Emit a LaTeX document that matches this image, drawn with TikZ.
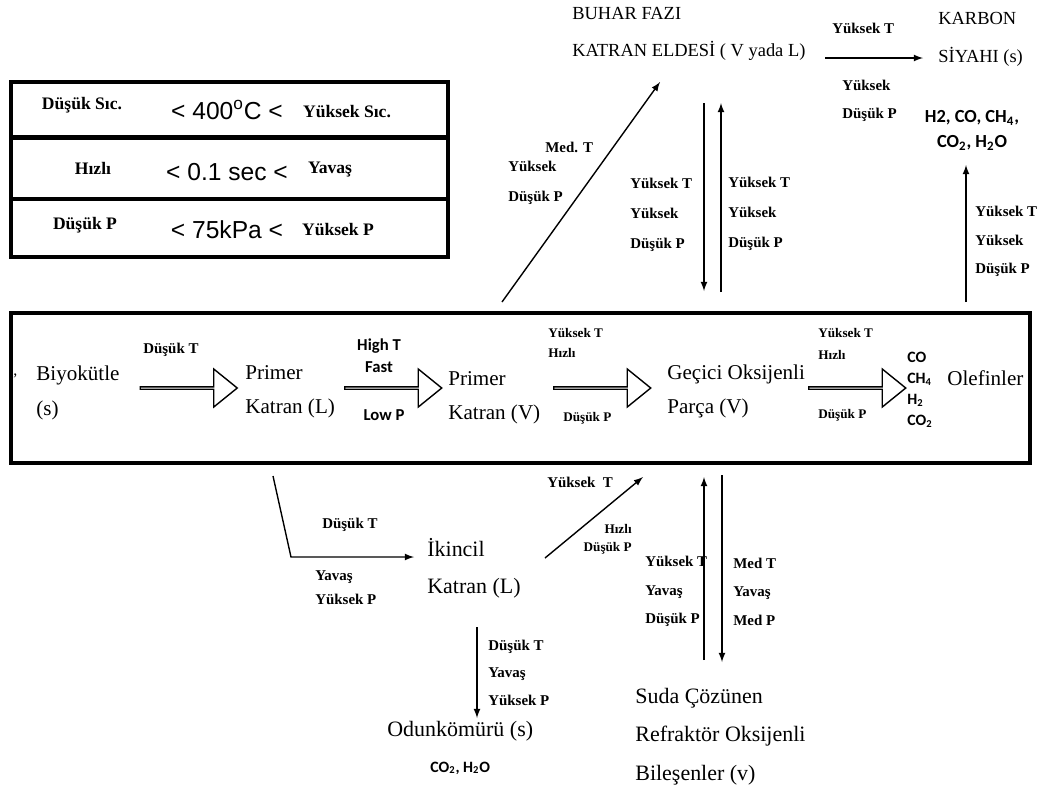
\documentclass[tikz,border=0pt]{standalone}
\usepackage{fontspec}
\setmainfont{Liberation Serif}
\newfontfamily\arialfont{Liberation Sans}
\newfontfamily\calfont{Carlito}
\usepackage{tikz}
\usetikzlibrary{shapes,arrows}
\newcommand{\fs}[2]{\fontsize{#1}{#2}\selectfont}

\begin{document}
\begin{tikzpicture}[x=0.02cm,y=-0.02cm]
  \useasboundingbox (0,0) rectangle (1045,796);
  \tikzstyle{boxline} = [line width=2.8pt]
  \tikzstyle{txt} = [inner sep=0pt, anchor=west, align=left, font=\fs{12}{19.5}]
  \tikzstyle{cond} = [inner sep=0pt, anchor=west, align=left, font=\bfseries\fs{8.5}{17}]
  \tikzstyle{condsm} = [inner sep=0pt, anchor=west, align=left, font=\bfseries\fs{7.5}{11.4}]
  \tikzstyle{leg} = [inner sep=0pt, font=\bfseries\fs{10}{12}]
  \tikzstyle{lim} = [inner sep=0pt, font=\arialfont\fs{14}{16}]
  \tikzstyle{hollow} = [single arrow, draw, line width=0.8pt, inner sep=0pt, minimum height=1.94cm,
                        minimum width=0.76cm, single arrow head extend=0.21cm, single arrow tip angle=78]
  \tikzstyle{flow} = [-latex, line width=0.8pt]

  % legend
  \draw[boxline] (11,82) rectangle (448,257);
  \draw[boxline] (11,137.5) -- (448,137.5);
  \draw[boxline] (11,199) -- (448,199);
  \node[leg] (lowT) at (82,105) {Düşük Sıc.};
  \node[lim] (limT) at (227,110) {< 400\textsuperscript{o}C <};
  \node[leg] (highT) at (347,112) {Yüksek Sıc.};
  \node[leg] (fast) at (93,168) {Hızlı};
  \node[lim] (limt) at (227,172) {< 0.1 sec <};
  \node[leg] (slow) at (330,170) {Yavaş};
  \node[leg] (lowP) at (85,225) {Düşük P};
  \node[lim] (limP) at (227,230) {< 75kPa <};
  \node[leg] (highP) at (338,230) {Yüksek P};

  % main chain
  \draw[boxline] (11,313) rectangle (1030,463);
  \node[txt, font=\fs{9}{10}] (mark) at (13,376) {,};
  \node[txt] (bio) at (36,393) {Biyokütle\\(s)};
  \node[txt] (priL) at (245,392) {Primer\\Katran (L)};
  \node[txt] (priV) at (448,397.5) {Primer\\Katran (V)};
  \node[txt] (gecici) at (667,391.5) {Geçici Oksijenli\\Parça (V)};
  \node[txt, font=\calfont\bfseries\fs{9}{12}] (gaz) at (907,390) {CO\\CH\textsubscript{4}\\H\textsubscript{2}\\CO\textsubscript{2}};
  \node[txt] (olefin) at (947,378) {Olefinler};

  \node[hollow] (ha1) at (188,388) {};
  \node[hollow] (ha2) at (392.5,388) {};
  \node[hollow] (ha3) at (601.5,388) {};
  \node[hollow] (ha4) at (856.5,388) {};

  \node[cond] (c1) at (143,350) {Düşük T};
  \node[inner sep=0pt, align=center, font=\calfont\bfseries\fs{9.5}{12.5}] (c2) at (379,356) {High T\\Fast};
  \node[inner sep=0pt, font=\calfont\bfseries\fs{9.5}{12.5}] (c3) at (384,415) {Low P};
  \node[condsm] (c4) at (548,343) {Yüksek T\\Hızlı};
  \node[condsm] (c5) at (563,418) {Düşük P};
  \node[condsm, font=\bfseries\fs{7.5}{12.5}] (c6) at (818,344) {Yüksek T\\Hızlı};
  \node[condsm] (c7) at (818,415) {Düşük P};

  % upper branch
  \node[txt, font=\fs{10.5}{21}] (buhar) at (572,33.5) {BUHAR FAZI\\KATRAN ELDESİ ( V yada L)};
  \node[txt, font=\fs{10.5}{21.5}] (karbon) at (938,39) {KARBON\\SİYAHI (s)};
  \node[cond] (c8) at (832,28) {Yüksek T};
  \node[cond, font=\bfseries\fs{8.5}{16}] (c9) at (842,101) {Yüksek\\Düşük P};
  \node[inner sep=0pt, align=center, font=\calfont\bfseries\fs{10.5}{14}] (gaz2) at (972,130.5) {H2, CO, CH\textsubscript{4},\\CO\textsubscript{2}, H\textsubscript{2}O};
  \node[cond] (c10) at (545,147) {Med. T};
  \node[cond] (c11) at (508,183) {Yüksek\\Düşük P};
  \node[cond] (c12) at (630,215) {Yüksek T\\Yüksek\\Düşük P};
  \node[cond] (c13) at (728,214) {Yüksek T\\Yüksek\\Düşük P};
  \node[cond, font=\bfseries\fs{8.5}{16.2}] (c14) at (975,241.5) {Yüksek T\\Yüksek\\Düşük P};

  \coordinate (v0) at (502,302);
  \coordinate (v1) at (660,82);
  \coordinate (k0) at (825,58);
  \coordinate (k1) at (923,58);
  \coordinate (g0) at (966,302);
  \coordinate (g1) at (966,165);
  \coordinate (d0) at (704,103);
  \coordinate (d1) at (704,291);
  \coordinate (u0) at (721,292);
  \coordinate (u1) at (721,103);
  \draw[flow] (v0) -- (v1);
  \draw[flow] (k0) -- (k1);
  \draw[flow] (g0) -- (g1);
  \draw[flow] (d0) -- (d1);
  \draw[flow] (u0) -- (u1);

  % lower branch
  \node[cond] (c15) at (322,525) {Düşük T};
  \node[cond, font=\bfseries\fs{8.5}{14}] (c16) at (315,587.5) {Yavaş\\Yüksek P};
  \node[txt, font=\fs{12.5}{21}] (ikincil) at (427,568.5) {İkincil\\Katran (L)};
  \node[cond] (c17) at (547,482) {Yüksek~ T};
  \node[inner sep=0pt, anchor=east, align=right, font=\bfseries\fs{7.5}{10}] (c18) at (632,539) {Hızlı\\Düşük P};
  \node[cond, font=\bfseries\fs{8.5}{16.2}] (c19) at (645,591.5) {Yüksek T\\Yavaş\\Düşük P};
  \node[cond, font=\bfseries\fs{8.5}{16.2}] (c20) at (733,591.5) {Med T\\Yavaş\\Med P};
  \node[cond, font=\bfseries\fs{8.5}{15.6}] (c21) at (488,672.5) {Düşük T\\Yavaş\\Yüksek P};
  \node[txt, font=\fs{12.5}{15}] (odun) at (387,731) {Odunkömürü (s)};
  \node[txt, font=\calfont\bfseries\fs{9}{11}] (co2) at (430,768) {CO\textsubscript{2}, H\textsubscript{2}O};
  \node[txt, font=\fs{12.5}{22}] (suda) at (635,736.5) {Suda Çözünen\\Refraktör Oksijenli\\Bileşenler (v)};

  \coordinate (s0) at (273,476);
  \coordinate (s1) at (291,557);
  \coordinate (s2) at (414,557);
  \coordinate (r0) at (545,558);
  \coordinate (r1) at (643,477);
  \coordinate (o0) at (477,627);
  \coordinate (o1) at (477,718);
  \coordinate (w0) at (704,660);
  \coordinate (w1) at (704,477);
  \coordinate (w2) at (722,475);
  \coordinate (w3) at (722,662);
  \draw[flow] (s0) -- (s1) -- (s2);
  \draw[flow] (r0) -- (r1);
  \draw[flow] (o0) -- (o1);
  \draw[flow] (w0) -- (w1);
  \draw[flow] (w2) -- (w3);
\end{tikzpicture}
\end{document}
